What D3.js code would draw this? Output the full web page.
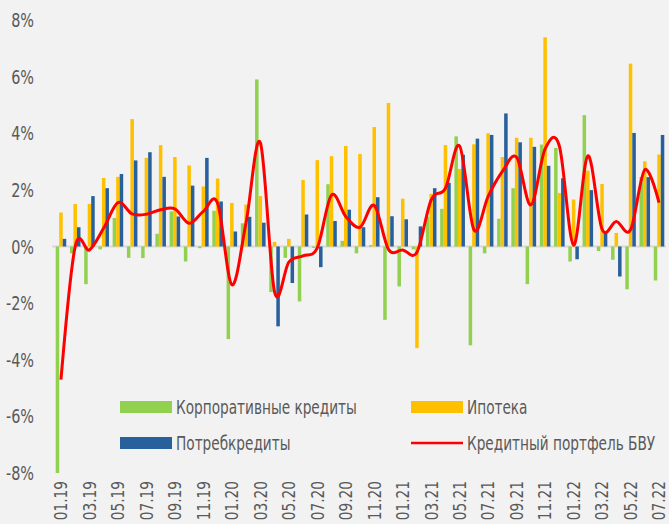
<!DOCTYPE html>
<html>
<head>
<meta charset="utf-8">
<script src="https://cdn.jsdelivr.net/npm/d3@7"></script>
<style>
  body { margin: 0; background: #f2f2f2; }
  svg { display: block; }
  text { font-family: "DejaVu Sans Condensed", "Liberation Sans Narrow", Roboto, sans-serif; fill: #595959; }
</style>
</head>
<body>
<div id="chart"></div>
<script>
// months 01.19 .. 07.22
var months = [];
for (var yy = 19; yy <= 22; yy++) {
    for (var mm = 1; mm <= 12; mm++) {
        if (yy === 22 && mm > 7) break;
        months.push((mm < 10 ? "0" + mm : "" + mm) + "." + yy);
    }
}

var seriesNames = ["Корпоративные кредиты", "Ипотека", "Потребкредиты"];
var lineName = "Кредитный портфель БВУ";

var corporate = [-8.0, -0.24, -1.33, -0.1, 1.01, -0.4, -0.41, 0.45, 1.24, -0.53, -0.06, 1.26,
    -3.27, 0.82, 5.9, -1.61, -0.4, -1.94, -0.05, 2.2, 0.2, -0.24, 0.05, -2.59,
    -1.41, -0.1, 1.06, 1.33, 3.89, -3.49, -0.24, 0.98, 2.06, -1.33, 3.6, 3.48,
    -0.53, 4.64, -0.16, -0.47, -1.51, 2.45, -1.2];
var mortgage = [1.2, 1.5, 1.5, 2.42, 2.46, 4.5, 3.13, 3.58, 3.16, 2.86, 2.12, 2.4,
    1.54, 1.48, 1.78, 0.16, 0.27, 2.35, 3.05, 3.19, 3.55, 3.27, 4.22, 5.07,
    1.69, -3.59, 1.86, 3.58, 2.74, 3.61, 4.0, 3.16, 3.84, 3.84, 7.39, 1.89,
    1.66, 2.68, 2.21, 0.48, 6.46, 3.01, 3.25];
var consumer = [0.27, 0.68, 1.78, 2.06, 2.56, 3.04, 3.33, 2.46, 1.06, 2.15, 3.13, 1.59,
    0.53, 1.05, 0.84, -2.82, -1.29, 1.13, -0.73, 0.9, 1.3, 0.68, 1.74, 1.07,
    0.96, 0.71, 2.06, 2.25, 3.24, 3.81, 3.94, 4.7, 3.68, 3.52, 2.85, 2.41,
    -0.45, 1.99, 0.46, -1.06, 4.01, 2.45, 3.94];
var portfolio = [-4.7, 0.0, -0.12, 0.65, 1.55, 1.15, 1.14, 1.3, 1.33, 0.82, 1.24, 1.53,
    -1.35, 0.85, 3.67, -1.6, -0.55, -0.33, -0.05, 1.82, 1.06, 0.68, 1.45, -0.1,
    -0.12, -0.2, 1.65, 2.06, 3.55, 0.59, 1.77, 2.65, 3.15, 1.47, 3.45, 3.55,
    0.05, 3.2, 0.61, 0.88, 0.59, 2.71, 1.55];

var yTicks = [-8, -6, -4, -2, 0, 2, 4, 6, 8];
var colors = ["#92d050", "#ffc000", "#27609a"];

var width = 669, height = 524;
var narrow = 0.8; // squeeze text horizontally to look like a condensed face

var svg = d3.select("#chart").append("svg")
    .attr("width", width)
    .attr("height", height);

svg.append("rect")
    .attr("width", width)
    .attr("height", height)
    .style("fill", "#f2f2f2");

var x = d3.scaleBand()
    .domain(months)
    .range([52, 668])
    .padding(0.26);

var x1 = d3.scaleBand()
    .domain(seriesNames)
    .range([0, x.bandwidth()]);

var y = d3.scaleLinear()
    .domain([-8, 8])
    .range([473, 20]);

// y labels
svg.selectAll(".ylab")
    .data(yTicks)
    .enter()
    .append("text")
    .attr("class", "ylab")
    .attr("transform", function(d) { return "translate(34," + y(d) + ") scale(" + narrow + ",1)"; })
    .attr("dy", "0.35em")
    .attr("text-anchor", "end")
    .style("font-size", "20px")
    .text(function(d) { return d + "%"; });

// zero line
svg.append("line")
    .attr("x1", 52)
    .attr("x2", 666)
    .attr("y1", y(0))
    .attr("y2", y(0))
    .style("stroke", "#d9d9d9")
    .style("stroke-width", 2);

// bars
var allSeries = [corporate, mortgage, consumer];
allSeries.forEach(function(values, s) {
    svg.append("g")
        .selectAll("rect")
        .data(values)
        .enter()
        .append("rect")
        .attr("x", function(d, i) { return x(months[i]) + x1(seriesNames[s]); })
        .attr("width", x1.bandwidth())
        .attr("y", function(d) { return y(Math.max(0, d)); })
        .attr("height", function(d) { return Math.abs(y(d) - y(0)); })
        .style("fill", colors[s]);
});

// portfolio line
var line = d3.line()
    .x(function(d, i) { return x(months[i]) + x.bandwidth() / 2; })
    .y(function(d) { return y(d); })
    .curve(d3.curveCardinal);

svg.append("path")
    .datum(portfolio)
    .attr("d", line)
    .style("fill", "none")
    .style("stroke", "#ff0000")
    .style("stroke-width", 3);

// x labels, every other month
svg.selectAll(".xlab")
    .data(months.filter(function(d, i) { return i % 2 === 0; }))
    .enter()
    .append("text")
    .attr("class", "xlab")
    .attr("transform", function(d) {
        return "translate(" + (x(d) + x.bandwidth() / 2) + ",481) rotate(-90) scale(0.85,1)";
    })
    .attr("text-anchor", "end")
    .attr("dy", "0.35em")
    .style("font-size", "18px")
    .text(function(d) { return d; });

// legend
var legend = [
    {name: seriesNames[0], color: colors[0], x: 120, y: 407, type: "rect"},
    {name: seriesNames[1], color: colors[1], x: 411, y: 407, type: "rect"},
    {name: seriesNames[2], color: colors[2], x: 120, y: 443, type: "rect"},
    {name: lineName, color: "#ff0000", x: 411, y: 443, type: "line"}
];

legend.forEach(function(d) {
    if (d.type === "rect") {
        svg.append("rect")
            .attr("x", d.x)
            .attr("y", d.y - 6)
            .attr("width", 52)
            .attr("height", 12)
            .style("fill", d.color);
    } else {
        svg.append("line")
            .attr("x1", d.x)
            .attr("x2", d.x + 52)
            .attr("y1", d.y)
            .attr("y2", d.y)
            .style("stroke", d.color)
            .style("stroke-width", 2.5);
    }
    svg.append("text")
        .attr("transform", "translate(" + (d.x + 56) + "," + d.y + ") scale(" + narrow + ",1)")
        .attr("dy", "0.35em")
        .style("font-size", "19px")
        .text(d.name);
});
</script>
</body>
</html>
